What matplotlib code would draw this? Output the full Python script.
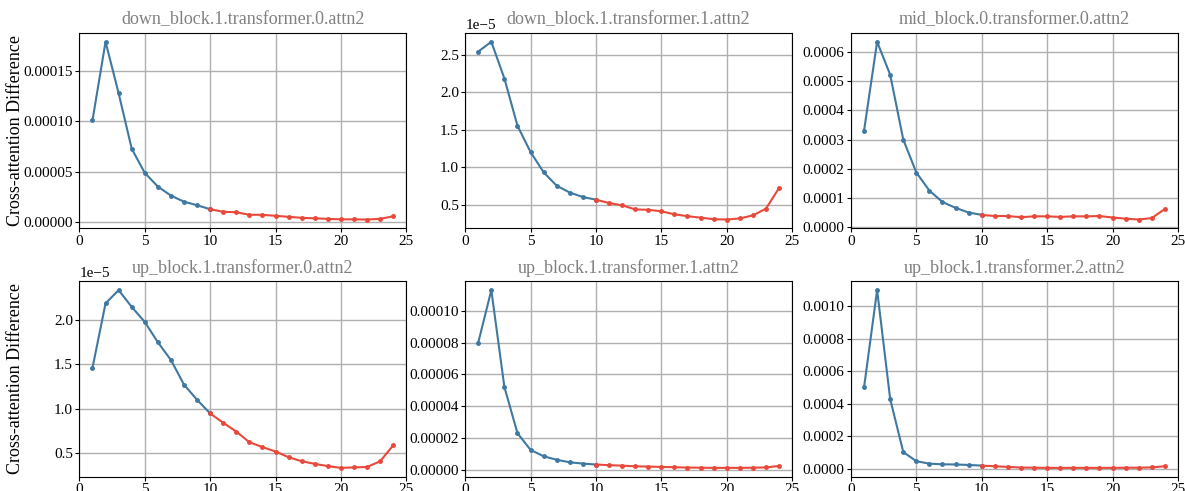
import matplotlib
matplotlib.use("Agg")
import matplotlib.pyplot as plt
import numpy as np

plt.rcParams['font.family'] = ['Liberation Serif', 'DejaVu Serif']
plt.rcParams['mathtext.fontset'] = 'stix'

steps = np.arange(1, 25)

titles = [
    "down_block.1.transformer.0.attn2",
    "down_block.1.transformer.1.attn2",
    "mid_block.0.transformer.0.attn2",
    "up_block.1.transformer.0.attn2",
    "up_block.1.transformer.1.attn2",
    "up_block.1.transformer.2.attn2",
]

down0 = np.array([1.01, 1.79, 1.28, 0.73, 0.49, 0.355, 0.265, 0.205, 0.17, 0.13,
                  0.105, 0.10, 0.075, 0.075, 0.065, 0.055, 0.045, 0.04, 0.035, 0.03,
                  0.03, 0.028, 0.035, 0.06]) * 1e-4
down1 = np.array([2.54, 2.67, 2.18, 1.55, 1.20, 0.93, 0.75, 0.66, 0.60, 0.565,
                  0.52, 0.49, 0.435, 0.43, 0.41, 0.37, 0.345, 0.325, 0.305, 0.30,
                  0.315, 0.355, 0.445, 0.72]) * 1e-5
mid0 = np.array([3.3, 6.35, 5.22, 3.0, 1.87, 1.25, 0.86, 0.66, 0.50, 0.42,
                 0.38, 0.38, 0.34, 0.37, 0.37, 0.35, 0.37, 0.37, 0.38, 0.33,
                 0.29, 0.26, 0.31, 0.62]) * 1e-4
up0 = np.array([1.46, 2.19, 2.34, 2.15, 1.98, 1.75, 1.55, 1.27, 1.10, 0.945,
                0.84, 0.74, 0.62, 0.565, 0.515, 0.45, 0.405, 0.375, 0.35, 0.33,
                0.335, 0.34, 0.405, 0.585]) * 1e-5
up1 = np.array([8.0, 11.3, 5.2, 2.3, 1.25, 0.85, 0.63, 0.47, 0.39, 0.33,
                0.29, 0.26, 0.22, 0.20, 0.18, 0.16, 0.14, 0.13, 0.12, 0.12,
                0.12, 0.13, 0.15, 0.24]) * 1e-5
up2 = np.array([5.0, 11.0, 4.28, 1.02, 0.45, 0.30, 0.26, 0.25, 0.22, 0.18,
                0.14, 0.10, 0.06, 0.05, 0.04, 0.04, 0.04, 0.04, 0.04, 0.04,
                0.05, 0.05, 0.07, 0.14]) * 1e-4

series = [down0, down1, mid0, up0, up1, up2]
split = 10  # steps 1..10 blue, 10..24 red

fig, axes = plt.subplots(2, 3, figsize=(11.85, 4.91), dpi=100)
plt.subplots_adjust(left=0.067, right=0.994, top=0.933, bottom=0.029,
                    wspace=0.18, hspace=0.27)

for i, ax in enumerate(axes.flat):
    y = series[i]
    ax.plot(steps[:split], y[:split], color='#3f79a1', marker='.', markersize=5, linewidth=1.5)
    ax.plot(steps[split - 1:], y[split - 1:], color='#e8493b', marker='.', markersize=5, linewidth=1.5)
    ax.set_xlim(0, 25)
    ax.set_xticks([0, 5, 10, 15, 20, 25])
    ax.grid(True, color='#b0b0b0', linewidth=1)
    ax.set_axisbelow(True)
    ax.set_title(titles[i], color='gray', fontsize=13, y=1.0, pad=6)
    ax.tick_params(labelsize=11, pad=1.5, length=3)
    ax.yaxis.get_offset_text().set_fontsize(11)
    if i % 3 == 0:
        ax.set_ylabel('Cross-attention Difference', fontsize=13)
        ax.yaxis.set_label_coords(-0.17, 0.5)

fmt5 = plt.FuncFormatter(lambda v, p: f"{v:.5f}")
fmt4 = plt.FuncFormatter(lambda v, p: f"{v:.4f}")

axes[0, 0].set_yticks(np.arange(0, 1.6e-4, 5e-5))
axes[0, 0].yaxis.set_major_formatter(fmt5)
axes[0, 2].set_yticks(np.arange(0, 6.5e-4, 1e-4))
axes[0, 2].yaxis.set_major_formatter(fmt4)
axes[1, 1].set_yticks(np.arange(0, 1.1e-4, 2e-5))
axes[1, 1].yaxis.set_major_formatter(fmt5)
axes[1, 2].set_yticks(np.arange(0, 1.1e-3, 2e-4))
axes[1, 2].yaxis.set_major_formatter(fmt4)

plt.savefig('out.png')
